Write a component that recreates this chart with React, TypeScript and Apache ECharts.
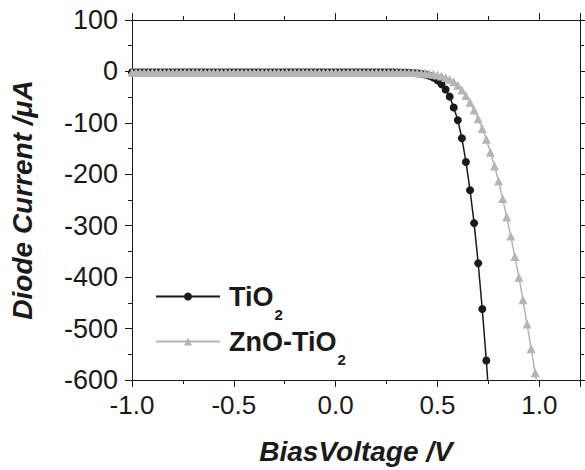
import React, { useEffect, useRef } from "react";
import * as echarts from "echarts";

const voltage = [
  -1.0, -0.98, -0.96, -0.94, -0.92, -0.9, -0.88, -0.86, -0.84, -0.82,
  -0.8, -0.78, -0.76, -0.74, -0.72, -0.7, -0.68, -0.66, -0.64, -0.62,
  -0.6, -0.58, -0.56, -0.54, -0.52, -0.5, -0.48, -0.46, -0.44, -0.42,
  -0.4, -0.38, -0.36, -0.34, -0.32, -0.3, -0.28, -0.26, -0.24, -0.22,
  -0.2, -0.18, -0.16, -0.14, -0.12, -0.1, -0.08, -0.06, -0.04, -0.02,
  0.0, 0.02, 0.04, 0.06, 0.08, 0.1, 0.12, 0.14, 0.16, 0.18,
  0.2, 0.22, 0.24, 0.26, 0.28, 0.3, 0.32, 0.34, 0.36, 0.38,
  0.4, 0.42, 0.44, 0.46, 0.48, 0.5, 0.52, 0.54, 0.56, 0.58,
  0.6, 0.62, 0.64, 0.66, 0.68, 0.7, 0.72, 0.74, 0.76, 0.78,
  0.8, 0.82, 0.84, 0.86, 0.88, 0.9, 0.92, 0.94, 0.96, 0.98,
  1.0,
];

const tio2Current = [
  -1.5, -1.5, -1.5, -1.5, -1.5, -1.5, -1.5, -1.5, -1.5, -1.5,
  -1.5, -1.5, -1.5, -1.5, -1.5, -1.5, -1.5, -1.5, -1.5, -1.5,
  -1.5, -1.5, -1.5, -1.5, -1.5, -1.5, -1.5, -1.5, -1.5, -1.5,
  -1.5, -1.5, -1.5, -1.5, -1.5, -1.5, -1.5, -1.5, -1.5, -1.5,
  -1.5, -1.5, -1.5, -1.5, -1.5, -1.5, -1.5, -1.5, -1.5, -1.5,
  -1.5, -1.5, -1.5, -1.5, -1.5, -1.5, -1.5, -1.5, -1.5, -1.5,
  -1.5, -1.5, -1.6, -1.6, -1.7, -1.8, -2.0, -2.2, -2.6, -3.0,
  -3.6, -4.6, -6, -8.5, -12, -17, -25, -35, -49, -70,
  -95, -130, -176, -231, -295, -373, -462, -562, -675,
];

const znoTio2Current = [
  -1.5, -1.5, -1.5, -1.5, -1.5, -1.5, -1.5, -1.5, -1.5, -1.5,
  -1.5, -1.5, -1.5, -1.5, -1.5, -1.5, -1.5, -1.5, -1.5, -1.5,
  -1.5, -1.5, -1.5, -1.5, -1.5, -1.5, -1.5, -1.5, -1.5, -1.5,
  -1.5, -1.5, -1.5, -1.5, -1.5, -1.5, -1.5, -1.5, -1.5, -1.5,
  -1.5, -1.5, -1.5, -1.5, -1.5, -1.5, -1.5, -1.5, -1.5, -1.5,
  -1.5, -1.5, -1.5, -1.5, -1.5, -1.5, -1.5, -1.5, -1.5, -1.5,
  -1.5, -1.5, -1.5, -1.5, -1.5, -1.6, -1.7, -1.8, -2.0, -2.2,
  -2.5, -3, -3.6, -4.5, -5.5, -7, -9, -12, -15, -20,
  -27, -36, -47, -60, -75, -92, -111, -132, -157, -184,
  -213, -247, -283, -320, -360, -400, -444, -491, -539, -586,
  -634,
];

const seriesNames = ["TiO2", "ZnO-TiO2"];
const legendLabels: Record<string, [string, string]> = {
  "TiO2": ["TiO", "2"],
  "ZnO-TiO2": ["ZnO-TiO", "2"],
};

const X_MIN = -1.0;
const X_MAX = 1.2;
const Y_MIN = -600;
const Y_MAX = 100;

const FONT = "'Liberation Sans', Arial, Helvetica, sans-serif";
const INK = "#1a1a1a";
const GRAY = "#b5b5b5";

export default function App() {
  const ref = useRef<HTMLDivElement>(null);

  useEffect(() => {
    if (!ref.current) return;
    const chart = echarts.init(ref.current, null, { renderer: "svg" });

    const tio2Data = tio2Current.map((c, i) => [voltage[i], c]);
    const znoData = znoTio2Current.map((c, i) => [voltage[i], c]);

    const xBase = {
      type: "value" as const,
      min: X_MIN,
      max: X_MAX,
      splitLine: { show: false },
      axisLine: { show: true, onZero: false, lineStyle: { color: INK, width: 1 } },
    };

    const option: any = {
      animation: false,
      backgroundColor: "#ffffff",
      textStyle: { fontFamily: FONT },
      grid: { left: 132, right: 5, top: 20, bottom: 85, containLabel: false },
      legend: {
        orient: "vertical",
        left: 155,
        top: 283,
        padding: 0,
        itemWidth: 64,
        itemHeight: 10,
        itemGap: 6,
        data: seriesNames,
        formatter: (name: string) => {
          const p = legendLabels[name];
          return `{a|${p[0]}}{b|${p[1]}}`;
        },
        textStyle: {
          color: INK,
          fontFamily: FONT,
          rich: {
            a: { fontSize: 27, fontWeight: "bold", lineHeight: 27, verticalAlign: "top", padding: [0, 0, 0, 4], color: INK, fontFamily: FONT },
            b: { fontSize: 15, fontWeight: "bold", lineHeight: 15, verticalAlign: "top", padding: [24, 0, 0, 1], color: INK, fontFamily: FONT },
          },
        },
      },
      xAxis: [
        {
          ...xBase,
          position: "bottom",
          interval: 0.5,
          name: "BiasVoltage /V",
          nameLocation: "middle",
          nameGap: 57,
          nameTextStyle: { fontSize: 28, fontWeight: "bold", fontStyle: "italic", color: INK, fontFamily: FONT },
          axisTick: { show: true, inside: false, length: 7, lineStyle: { color: INK } },
          axisLabel: {
            show: true,
            fontSize: 26,
            color: INK,
            margin: 12,
            fontFamily: FONT,
            formatter: (v: number) => {
              const r = Math.round(v * 100) / 100;
              if (Math.abs(r * 2 - Math.round(r * 2)) > 1e-6) return "";
              if (r > 1.05) return "";
              return r.toFixed(1);
            },
          },
        },
        {
          ...xBase,
          position: "bottom",
          interval: 0.25,
          axisLine: { show: false, onZero: false },
          axisTick: { show: true, inside: false, length: 4, lineStyle: { color: INK } },
          axisLabel: { show: false },
        },
        {
          ...xBase,
          position: "top",
          interval: 0.5,
          axisTick: { show: true, inside: false, length: 7, lineStyle: { color: INK } },
          axisLabel: { show: false },
        },
        {
          ...xBase,
          position: "top",
          interval: 0.25,
          axisLine: { show: false, onZero: false },
          axisTick: { show: true, inside: false, length: 4, lineStyle: { color: INK } },
          axisLabel: { show: false },
        },
      ],
      yAxis: [
        {
          type: "value",
          position: "left",
          min: Y_MIN,
          max: Y_MAX,
          interval: 100,
          name: "Diode Current /\u03bcA",
          nameLocation: "middle",
          nameGap: 96,
          nameTextStyle: { fontSize: 28, fontWeight: "bold", fontStyle: "italic", color: INK, fontFamily: FONT },
          splitLine: { show: false },
          axisLine: { show: true, onZero: false, lineStyle: { color: INK, width: 1 } },
          axisTick: { show: true, inside: false, length: 7, lineStyle: { color: INK } },
          minorTick: { show: true, splitNumber: 2, length: 4, lineStyle: { color: INK } },
          axisLabel: { fontSize: 27, color: INK, margin: 14, fontFamily: FONT },
        },
        {
          type: "value",
          position: "right",
          min: Y_MIN,
          max: Y_MAX,
          interval: 100,
          splitLine: { show: false },
          axisLine: { show: true, onZero: false, lineStyle: { color: INK, width: 1 } },
          axisTick: { show: true, inside: false, length: 7, lineStyle: { color: INK } },
          minorTick: { show: true, splitNumber: 2, length: 4, lineStyle: { color: INK } },
          axisLabel: { show: false },
        },
      ],
      series: [
        {
          name: "TiO2",
          type: "line",
          xAxisIndex: 0,
          yAxisIndex: 0,
          data: tio2Data,
          symbol: "circle",
          symbolSize: 8,
          showAllSymbol: true,
          lineStyle: { color: INK, width: 1.5 },
          itemStyle: { color: INK },
          clip: true,
          z: 2,
        },
        {
          name: "ZnO-TiO2",
          type: "line",
          xAxisIndex: 0,
          yAxisIndex: 0,
          data: znoData,
          symbol: "triangle",
          symbolSize: 9,
          showAllSymbol: true,
          lineStyle: { color: GRAY, width: 1.5 },
          itemStyle: { color: GRAY },
          clip: true,
          z: 3,
        },
      ],
    };

    chart.setOption(option);
    return () => chart.dispose();
  }, []);

  return (
    <div
      ref={ref}
      style={{ position: "absolute", left: 0, top: 0, width: 585, height: 470, background: "#fff" }}
    />
  );
}
